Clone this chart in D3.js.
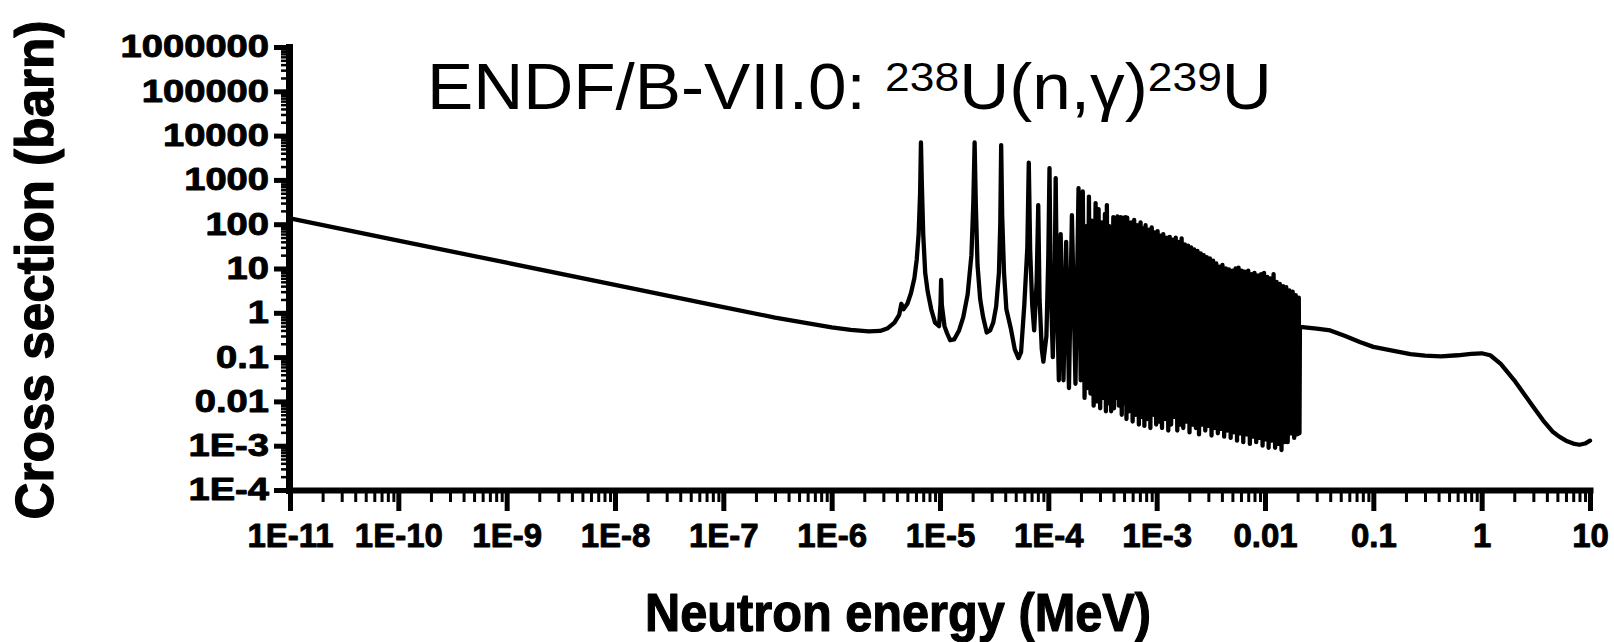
<!DOCTYPE html>
<html><head><meta charset="utf-8">
<script src="https://cdn.jsdelivr.net/npm/d3@7"></script>
<style>html,body{margin:0;padding:0;background:#fff;} svg{display:block}</style>
</head><body><svg id="c" width="1614" height="642"></svg>
<script>
// ---------- DATA (energy in MeV, cross section in barn) ----------
const lowEnergy = [1e-11,1e-10,1e-9,1e-8,1e-7,3e-7,1e-6,1.5e-6,2.2e-6,2.8e-6,3.3e-6,3.8e-6,4.2e-6,4.4e-6,4.6e-6,5.0e-6,5.4e-6,5.8e-6,6.1e-6,6.35e-6,6.55e-6,6.67e-6,6.8e-6,7.0e-6,7.3e-6,7.7e-6,8.3e-6,9.0e-6,9.8e-6,1.01e-5,1.024e-5,1.04e-5,1.1e-5,1.16e-5,1.24e-5,1.35e-5,1.5e-5,1.64e-5,1.8e-5,1.95e-5,2.03e-5,2.087e-5,2.14e-5,2.22e-5,2.35e-5,2.5e-5,2.7e-5,2.9e-5,3.1e-5,3.3e-5,3.5e-5,3.6e-5,3.67e-5,3.75e-5,3.9e-5,4.1e-5,4.5e-5,4.9e-5,5.3e-5,5.6e-5,6.0e-5,6.4e-5,6.6e-5,6.8e-5,7.1e-5,7.4e-5,7.8e-5,8.07e-5,8.3e-5,8.7e-5,9.0e-5,9.6e-5,1.0e-4,1.025e-4,1.05e-4,1.1e-4,1.14e-4,1.169e-4,1.2e-4,1.25e-4];
const lowSigma = [135,42.7,13.5,4.27,1.35,0.78,0.47,0.41,0.38,0.39,0.45,0.6,0.9,1.6,1.2,1.6,2.8,6,16,60,500,7000,800,60,8,3,1.2,0.6,0.5,1.5,5.5,1.5,0.5,0.35,0.24,0.25,0.4,0.8,2.6,20,300,7000,300,12,2,0.8,0.36,0.4,0.6,1.4,8,100,6100,150,8,1.2,0.45,0.15,0.095,0.13,1.5,30,2450,25,1.5,0.4,5,270,2,0.15,0.079,0.3,20,1850,5,0.1,3,1100,3,0.03];

const densePeakE = [1.30e-4,1.46e-4,1.65e-4,1.90e-4,2.08e-4,2.24e-4,2.37e-4,2.52e-4,2.73e-4,2.91e-4,3.11e-4,3.33e-4,3.47e-4,3.65e-4,3.98e-4,4.10e-4,4.34e-4,4.63e-4,4.89e-4,5.17e-4,5.35e-4,5.80e-4,6.20e-4,6.60e-4,7.10e-4,7.50e-4,7.90e-4,8.50e-4,9.00e-4,9.60e-4,1.02e-3,1.09e-3,1.15e-3,1.24e-3,1.32e-3,1.40e-3,1.50e-3,1.60e-3,1.70e-3,1.82e-3,1.95e-3,2.08e-3,2.22e-3,2.38e-3,2.55e-3,2.72e-3,2.90e-3,3.10e-3,3.32e-3,3.55e-3,3.80e-3,4.05e-3,4.35e-3,4.65e-3,5.00e-3,5.35e-3,5.70e-3,6.10e-3,6.50e-3,7.00e-3,7.50e-3,8.00e-3,8.60e-3,9.20e-3,9.80e-3,1.05e-2,1.12e-2,1.20e-2,1.28e-2,1.37e-2,1.47e-2,1.57e-2,1.68e-2,1.80e-2,1.92e-2,2.05e-2];
const densePeakS = [60,40,160,650,550,90,420,120,300,220,110,170,270,90,145,100,150,145,140,145,140,110,125,95,110,80,95,75,85,65,70,55,60,50,52,45,50,40,48,35,33,30,27,25,22,20,18,17,15,13,11,12,10,9.5,9,10,10.5,9,8.5,9,7.5,8,7,7.5,8,6.5,6,7.5,5,4.5,4,3.8,3.2,3,2.5,2.2];
const denseValleyE = [1.38e-4,1.55e-4,1.78e-4,1.99e-4,2.16e-4,2.30e-4,2.45e-4,2.62e-4,2.82e-4,3.01e-4,3.22e-4,3.40e-4,3.56e-4,3.80e-4,4.04e-4,4.22e-4,4.48e-4,4.76e-4,5.03e-4,5.26e-4,5.57e-4,6.00e-4,6.40e-4,6.85e-4,7.30e-4,7.70e-4,8.20e-4,8.75e-4,9.30e-4,9.90e-4,1.05e-3,1.12e-3,1.20e-3,1.28e-3,1.36e-3,1.45e-3,1.55e-3,1.65e-3,1.76e-3,1.88e-3,2.01e-3,2.15e-3,2.30e-3,2.46e-3,2.63e-3,2.81e-3,3.00e-3,3.21e-3,3.43e-3,3.67e-3,3.92e-3,4.20e-3,4.50e-3,4.82e-3,5.17e-3,5.52e-3,5.90e-3,6.30e-3,6.75e-3,7.25e-3,7.75e-3,8.30e-3,8.90e-3,9.50e-3,1.01e-2,1.08e-2,1.16e-2,1.24e-2,1.32e-2,1.42e-2,1.52e-2,1.62e-2,1.74e-2,1.86e-2,1.98e-2,2.08e-2];
const denseValleyS = [0.03,0.02,0.025,0.03,0.012,0.02,0.015,0.008,0.01,0.007,0.012,0.006,0.009,0.006,0.007,0.012,0.008,0.005,0.009,0.004,0.006,0.0035,0.005,0.003,0.0045,0.0028,0.004,0.0025,0.005,0.003,0.0035,0.0025,0.004,0.0022,0.003,0.0045,0.0022,0.003,0.0025,0.0035,0.002,0.003,0.0025,0.0018,0.003,0.0022,0.0028,0.0017,0.0025,0.0019,0.0024,0.0016,0.0022,0.0015,0.002,0.0013,0.0019,0.0012,0.0018,0.0011,0.0016,0.0012,0.0015,0.001,0.0014,0.0009,0.0013,0.0009,0.0011,0.0008,0.0012,0.0012,0.0019,0.0015,0.0018,0.0019];

const fastEnergy = [2.1e-2,3e-2,4e-2,5.5e-2,7.5e-2,0.1,0.15,0.22,0.3,0.42,0.6,0.8,1.0,1.2,1.5,2.0,2.5,3.0,3.7,4.5,5.2,6.0,7.0,8.0,9.0,10];
const fastSigma = [0.48,0.44,0.40,0.30,0.22,0.17,0.14,0.117,0.108,0.104,0.11,0.118,0.122,0.11,0.07,0.03,0.014,0.0075,0.0037,0.0021,0.0016,0.0013,0.00112,0.00105,0.00112,0.0013];

const xTickValues = [1e-11,1e-10,1e-9,1e-8,1e-7,1e-6,1e-5,1e-4,1e-3,1e-2,1e-1,1,10];
const xTickLabels = ["1E-11","1E-10","1E-9","1E-8","1E-7","1E-6","1E-5","1E-4","1E-3","0.01","0.1","1","10"];
const yTickValues = [1e-4,1e-3,1e-2,1e-1,1,10,100,1000,10000,100000,1000000];
const yTickLabels = ["1E-4","1E-3","0.01","0.1","1","10","100","1000","10000","100000","1000000"];
const minorMultipliers = [2,3,4,5,6,7,8,9];

const titleParts = [["ENDF/B-VII.0: ",false],["238",true],["U(n,γ)",false],["239",true],["U",false]];
const xTitle = "Neutron energy (MeV)";
const yTitle = "Cross section (barn)";

// ---------- DRAW ----------
const FONT = "'Liberation Sans', Arial, Helvetica, sans-serif";
const svg = d3.select("#c");
const x = d3.scaleLog().domain([1e-11, 10]).range([290, 1590]);
const y = d3.scaleLog().domain([1e-4, 1e6]).range([490, 47]);

const pts = [];
lowEnergy.forEach((e,i)=>pts.push([e, lowSigma[i]]));
densePeakE.forEach((e,i)=>{ pts.push([e, densePeakS[i]]); pts.push([denseValleyE[i], denseValleyS[i]]); });
fastEnergy.forEach((e,i)=>pts.push([e, fastSigma[i]]));
pts.sort((a,b)=>a[0]-b[0]);

const line = d3.line().x(d=>x(d[0])).y(d=>y(d[1]));
svg.append("path").datum(pts).attr("d", line)
  .attr("fill","none").attr("stroke","#000").attr("stroke-width",4.3)
  .attr("stroke-linejoin","round").attr("stroke-linecap","round");

function stretch(sel, k){
  sel.each(function(){
    const w = this.getComputedTextLength();
    d3.select(this).attr("textLength", w*k).attr("lengthAdjust","spacingAndGlyphs");
  });
}
function heavy(sel, sw){
  sel.attr("fill","#000").attr("stroke","#000").attr("stroke-width",sw).attr("stroke-linejoin","round");
}

// minor ticks
const minorX = [];
xTickValues.slice(0,-1).forEach(d=>minorMultipliers.forEach(m=>minorX.push(d*m)));
const minorY = [];
yTickValues.slice(0,-1).forEach(d=>minorMultipliers.forEach(m=>minorY.push(d*m)));

const gxm = svg.append("g").attr("transform","translate(0,490)")
  .call(d3.axisBottom(x).tickValues(minorX).tickSize(12).tickSizeOuter(0).tickFormat(""));
gxm.select(".domain").remove();
gxm.selectAll("line").attr("stroke","#000").attr("stroke-width",3);

const gym = svg.append("g").attr("transform","translate(289,0)")
  .call(d3.axisLeft(y).tickValues(minorY).tickSize(8).tickSizeOuter(0).tickFormat(""));
gym.select(".domain").remove();
gym.selectAll("line").attr("stroke","#000").attr("stroke-width",2.5);

const gx = svg.append("g").attr("transform","translate(0,490)")
  .call(d3.axisBottom(x).tickValues(xTickValues).tickSize(21).tickSizeOuter(0).tickPadding(13)
        .tickFormat((d,i)=>xTickLabels[i]));
gx.select(".domain").attr("stroke","#000").attr("stroke-width",6).attr("stroke-linecap","square");
gx.selectAll("line").attr("stroke","#000").attr("stroke-width",5);
gx.selectAll("text").attr("font-family",FONT).attr("font-size",33).attr("font-weight","bold");
heavy(gx.selectAll("text"), 0.9);
stretch(gx.selectAll("text"), 1.0);

const gy = svg.append("g").attr("transform","translate(289,0)")
  .call(d3.axisLeft(y).tickValues(yTickValues).tickSize(15).tickSizeOuter(0).tickPadding(5)
        .tickFormat((d,i)=>yTickLabels[i]));
gy.select(".domain").attr("stroke","#000").attr("stroke-width",7).attr("stroke-linecap","square");
gy.selectAll("line").attr("stroke","#000").attr("stroke-width",5);
gy.selectAll("text").attr("font-family",FONT).attr("font-size",31).attr("font-weight","bold");
heavy(gy.selectAll("text"), 0.9);
stretch(gy.selectAll("text"), 1.23);

// axis titles
const xt = svg.append("text").attr("x",898).attr("y",631).attr("text-anchor","middle")
  .attr("font-family",FONT).attr("font-size",53).attr("font-weight","bold")
  .attr("textLength",506).attr("lengthAdjust","spacingAndGlyphs").text(xTitle);
heavy(xt, 1.2);
const yt = svg.append("text").attr("transform","translate(53,270) rotate(-90)").attr("text-anchor","middle")
  .attr("font-family",FONT).attr("font-size",53).attr("font-weight","bold")
  .attr("textLength",499).attr("lengthAdjust","spacingAndGlyphs").text(yTitle);
heavy(yt, 1.2);

// chart title
const title = svg.append("text").attr("font-family",FONT).attr("font-size",64).attr("fill","#000");
let prevSup = false;
titleParts.forEach(([t,sup])=>{
  const ts = title.append("tspan").text(t);
  if (sup) { ts.attr("font-size",41).attr("dy", prevSup ? 0 : -18); }
  else { ts.attr("dy", prevSup ? 18 : 0); }
  prevSup = sup;
});
const tw = title.node().getComputedTextLength();
title.attr("transform", `translate(427,109) scale(${845/tw},1)`);
</script>
</body></html>
